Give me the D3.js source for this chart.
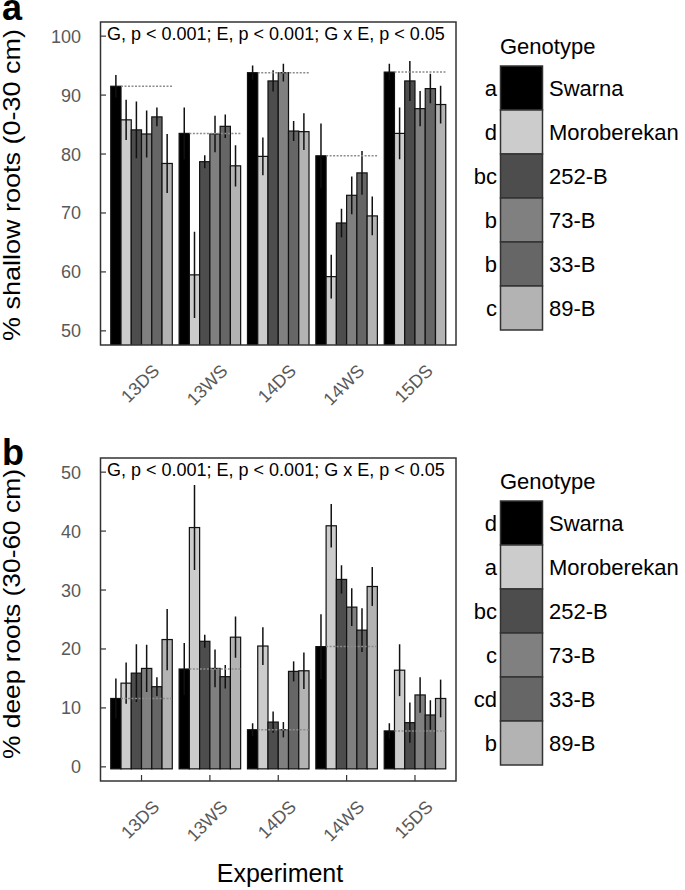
<!DOCTYPE html>
<meta charset="utf-8">
<script src="https://d3js.org/d3.v7.min.js"></script>
<style>
  body { margin: 0; background: #fff; }
  text { font-family: "Liberation Sans", Arial, sans-serif; }
</style>
<body>
<div id="chart"></div>
<script>

// data
var experiments = ["13DS", "13WS", "14DS", "14WS", "15DS"];
var genotypes = ["Swarna", "Moroberekan", "252-B", "73-B", "33-B", "89-B"];
var fills = ["#000000", "#cccccc", "#4d4d4d", "#808080", "#666666", "#b3b3b3"];

// % shallow roots, one row per experiment, genotypes in order
var shallowMean = [
  [91.5, 85.8, 84.1, 83.4, 86.3, 78.4],
  [83.5, 59.5, 78.7, 83.4, 84.7, 78.0],
  [93.8, 79.6, 92.4, 93.8, 83.9, 83.8],
  [79.7, 59.2, 68.3, 73.0, 76.8, 69.5],
  [93.9, 83.5, 92.4, 87.7, 91.1, 88.4]
];
var shallowErr = [
  [1.9, 3.4, 4.8, 4.0, 1.6, 5.0],
  [4.4, 7.3, 1.1, 3.1, 2.0, 3.5],
  [1.2, 3.2, 1.8, 1.5, 1.7, 3.1],
  [5.5, 3.7, 2.4, 3.2, 3.7, 3.3],
  [1.4, 4.4, 3.4, 3.0, 2.5, 3.2]
];
var shallowLetters = ["a", "d", "bc", "b", "b", "c"];

// % deep roots
var deepMean = [
  [11.6, 14.2, 15.9, 16.7, 13.6, 21.6],
  [16.6, 40.6, 21.3, 16.7, 15.3, 22.0],
  [6.3, 20.5, 7.6, 6.3, 16.2, 16.3],
  [20.4, 40.9, 31.8, 27.1, 23.2, 30.6],
  [6.1, 16.4, 7.5, 12.2, 8.8, 11.6]
];
var deepErr = [
  [3.4, 3.5, 4.9, 4.0, 1.6, 5.2],
  [4.4, 7.2, 1.1, 3.2, 2.0, 3.5],
  [1.1, 3.2, 1.8, 1.3, 1.7, 3.1],
  [5.5, 3.7, 2.4, 3.2, 3.7, 3.3],
  [1.3, 4.4, 3.4, 3.0, 2.5, 3.2]
];
var deepLetters = ["d", "a", "bc", "c", "cd", "b"];

var yTicksShallow = [50, 60, 70, 80, 90, 100];
var yTicksDeep = [0, 10, 20, 30, 40, 50];

var stats = "G, p < 0.001; E, p < 0.001; G x E, p < 0.05";

var svg = d3.select("#chart").append("svg")
    .attr("width", 685)
    .attr("height", 890);

var barW = 0.15;

function drawPanel(p) {
  var g = svg.append("g");

  var x = d3.scaleLinear().domain([0.4, 5.6]).range([100.5, 456]);
  var y = d3.scaleLinear().domain(p.domain).range([p.bottom, p.top]);

  var clipId = "clip" + p.tag;
  svg.append("clipPath").attr("id", clipId)
    .append("rect")
      .attr("x", 100.5).attr("y", p.top)
      .attr("width", 456 - 100.5).attr("height", p.bottom - p.top);

  var rows = [];
  p.mean.forEach(function(r, k) {
    r.forEach(function(v, i) {
      rows.push({k: k, i: i, v: v, e: p.err[k][i]});
    });
  });
  var cx = function(d) { return x(d.k + 1 + (d.i - 2.5) * barW); };

  var plot = g.append("g").attr("clip-path", "url(#" + clipId + ")");

  plot.selectAll("rect.bar")
    .data(rows)
    .enter()
    .append("rect")
      .attr("class", "bar")
      .attr("x", function(d) { return cx(d) - (x(barW) - x(0)) / 2; })
      .attr("width", x(barW) - x(0))
      .attr("y", function(d) { return y(d.v); })
      .attr("height", function(d) { return y(Math.max(p.domain[0], p.base)) - y(d.v) + 2; })
      .style("fill", function(d) { return fills[d.i]; })
      .style("stroke", "#111")
      .style("stroke-width", 1.2);

  // error bars
  plot.selectAll("line.err")
    .data(rows)
    .enter()
    .append("line")
      .attr("x1", cx).attr("x2", cx)
      .attr("y1", function(d) { return y(d.v - d.e); })
      .attr("y2", function(d) { return y(d.v + d.e); })
      .style("stroke", "#111")
      .style("stroke-width", 1.5);

  // Swarna reference line across each group
  plot.selectAll("line.ref")
    .data(p.mean)
    .enter()
    .append("line")
      .attr("x1", function(d, k) { return x(k + 1 - 2 * barW); })
      .attr("x2", function(d, k) { return x(k + 1 + 3 * barW); })
      .attr("y1", function(d) { return y(d[0]); })
      .attr("y2", function(d) { return y(d[0]); })
      .style("stroke", "#8c8c8c")
      .style("stroke-width", 1.5)
      .style("stroke-dasharray", "2,1.5");

  // y ticks (inward)
  g.selectAll("line.ytick")
    .data(p.ticks)
    .enter()
    .append("line")
      .attr("x1", 100.5).attr("x2", 106)
      .attr("y1", function(d) { return y(d); })
      .attr("y2", function(d) { return y(d); })
      .style("stroke", "#333")
      .style("stroke-width", 1.2);

  g.selectAll("text.ytick")
    .data(p.ticks)
    .enter()
    .append("text")
      .attr("x", 81)
      .attr("y", function(d) { return y(d); })
      .attr("dy", "0.36em")
      .attr("text-anchor", "end")
      .style("font-size", "18px")
      .style("fill", "#595959")
      .text(function(d) { return d; });

  if (p.xticks) {
    g.selectAll("line.xtick")
      .data(experiments)
      .enter()
      .append("line")
        .attr("x1", function(d, k) { return x(k + 1); })
        .attr("x2", function(d, k) { return x(k + 1); })
        .attr("y1", p.bottom).attr("y2", p.bottom - 6)
        .style("stroke", "#333")
        .style("stroke-width", 1.2);
  }

  g.selectAll("text.xtick")
    .data(experiments)
    .enter()
    .append("text")
      .attr("transform", function(d, k) {
        return "translate(" + (x(k + 1) + 10) + "," + (p.bottom + 18) + ") rotate(-45)";
      })
      .attr("text-anchor", "end")
      .attr("dy", "0.7em")
      .style("font-size", "18px")
      .style("fill", "#595959")
      .text(function(d) { return d; });

  // frame
  g.append("rect")
    .attr("x", 100.5).attr("y", p.top)
    .attr("width", 456 - 100.5).attr("height", p.bottom - p.top)
    .style("fill", "none")
    .style("stroke", "#333")
    .style("stroke-width", 1.5);

  g.append("text")
    .attr("x", 107)
    .attr("y", p.top + 18)
    .style("font-size", "18px")
    .style("fill", "#000")
    .text(stats);

  g.append("text")
    .attr("transform", "translate(19.5," + p.labelY + ") rotate(-90)")
    .attr("text-anchor", "middle")
    .attr("textLength", p.labelLen)
    .attr("lengthAdjust", "spacingAndGlyphs")
    .style("font-size", "24px")
    .style("fill", "#000")
    .text(p.ylabel);

  g.append("text")
    .attr("x", 2)
    .attr("y", p.top + p.tagDy)
    .style("font-size", "36px")
    .style("font-weight", "bold")
    .text(p.tag);

  // legend
  var lg = g.append("g");
  lg.append("text")
    .attr("x", 500)
    .attr("y", p.legTop - 12)
    .style("font-size", "22px")
    .text("Genotype");

  lg.selectAll("rect")
    .data(genotypes)
    .enter()
    .append("rect")
      .attr("x", 500.5)
      .attr("y", function(d, i) { return p.legTop + i * 44; })
      .attr("width", 42)
      .attr("height", 44)
      .style("fill", function(d, i) { return fills[i]; })
      .style("stroke", "#333")
      .style("stroke-width", 1.5);

  lg.selectAll("text.name")
    .data(genotypes)
    .enter()
    .append("text")
      .attr("class", "name")
      .attr("x", 549)
      .attr("y", function(d, i) { return p.legTop + i * 44 + 22; })
      .attr("dy", "0.36em")
      .style("font-size", "22px")
      .text(function(d) { return d; });

  lg.selectAll("text.letter")
    .data(p.letters)
    .enter()
    .append("text")
      .attr("class", "letter")
      .attr("x", 497)
      .attr("y", function(d, i) { return p.legTop + i * 44 + 22; })
      .attr("dy", "0.36em")
      .attr("text-anchor", "end")
      .style("font-size", "22px")
      .text(function(d) { return d; });
}

drawPanel({
  tag: "a", tagDy: -2, top: 22, bottom: 345, domain: [47.6, 102.4], base: 0,
  mean: shallowMean, err: shallowErr, ticks: yTicksShallow, letters: shallowLetters,
  ylabel: "% shallow roots (0-30 cm)", labelY: 185, labelLen: 312,
  legTop: 66, xticks: false
});

drawPanel({
  tag: "b", tagDy: 7, top: 458, bottom: 781, domain: [-2.4, 52.4], base: 0,
  mean: deepMean, err: deepErr, ticks: yTicksDeep, letters: deepLetters,
  ylabel: "% deep roots (30-60 cm)", labelY: 614, labelLen: 290,
  legTop: 501, xticks: true
});

svg.append("text")
  .attr("x", 280)
  .attr("y", 882)
  .attr("text-anchor", "middle")
  .style("font-size", "25px")
  .text("Experiment");

</script>
</body>
